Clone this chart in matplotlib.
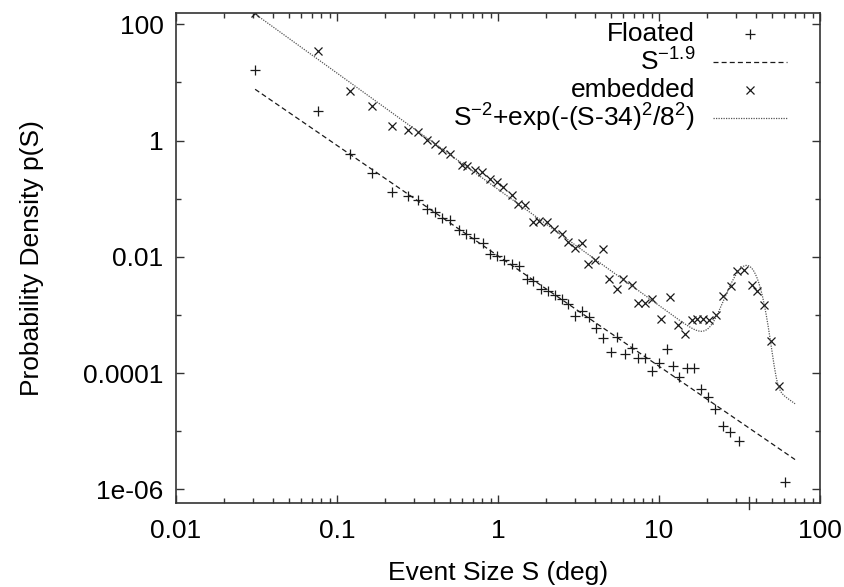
import numpy as np
import matplotlib.pyplot as plt
from matplotlib.lines import Line2D

plt.rcParams['font.family'] = ['Liberation Sans', 'DejaVu Sans']
plt.rcParams['mathtext.default'] = 'regular'

# floated data (+)
floated_S = [0.0310, 0.0759, 0.1205, 0.1642, 0.2187, 0.2748, 0.3199, 0.3638, 0.4062, 0.4470,
             0.5032, 0.575, 0.633, 0.709, 0.804, 0.892, 0.982, 1.090, 1.216, 1.356,
             1.508, 1.657, 1.842, 2.053, 2.259, 2.487, 2.710, 3.008, 3.311, 3.690,
             4.062, 4.508, 5.012, 5.524, 6.106, 6.767, 7.437, 8.185, 9.11, 10.03,
             11.16, 12.27, 13.37, 14.99, 16.57, 18.31, 20.24, 22.27, 24.87, 27.61,
             31.31, 61.06]
floated_p = [16.66, 3.29, 0.593, 0.275, 0.130, 0.1109, 0.0935, 0.0673, 0.0588, 0.0472,
             0.0424, 0.0285, 0.0244, 0.0208, 0.0174, 0.0110, 0.0104, 0.00888, 0.00764, 0.00687,
             0.00422, 0.00379, 0.00284, 0.00261, 0.00218, 0.00190, 0.00157, 0.000951, 0.00117, 0.000924,
             0.000608, 0.000406, 0.000229, 0.000414, 0.000209, 0.000275, 0.000185, 0.000185, 0.000110, 0.000150,
             0.000257, 0.000133, 8.51e-5, 0.000123, 0.000123, 5.29e-5, 3.90e-5, 2.45e-5, 1.25e-5, 9.53e-6,
             6.70e-6, 1.31e-6]

# embedded data (x)
embedded_S = [0.0310, 0.0759, 0.1205, 0.1642, 0.2187, 0.2748, 0.3199, 0.3638, 0.4062, 0.4470,
              0.5032, 0.5950, 0.6390, 0.7197, 0.7921, 0.8919, 0.9815, 1.079, 1.216, 1.337,
              1.472, 1.657, 1.805, 2.007, 2.228, 2.487, 2.734, 3.008, 3.311, 3.638,
              4.004, 4.470, 4.913, 5.462, 6.003, 6.767, 7.437, 8.185, 9.010, 10.25,
              11.70, 13.07, 14.44, 15.96, 17.29, 18.84, 20.53, 22.59, 25.08, 27.88,
              30.64, 33.58, 37.65, 40.91, 44.90, 49.41, 55.88]
embedded_p = [155.0, 35.3, 7.26, 3.90, 1.77, 1.55, 1.41, 1.03, 0.881, 0.695,
              0.593, 0.388, 0.359, 0.306, 0.286, 0.221, 0.193, 0.158, 0.114, 0.0820,
              0.0767, 0.0396, 0.0412, 0.0396, 0.0305, 0.0250, 0.0180, 0.0144, 0.0173, 0.00764,
              0.00871, 0.0138, 0.00422, 0.00284, 0.00422, 0.00324, 0.00159, 0.00158, 0.00191, 0.000867,
              0.00201, 0.000665, 0.000466, 0.000811, 0.000843, 0.000843, 0.000830, 0.000989, 0.00210, 0.00311,
              0.00579, 0.00584, 0.00324, 0.00255, 0.00147, 0.000363, 5.96e-5]

# fit parameters
fit_range = (0.031, 70.0)
power_amp, power_exp = 0.0104, -1.9
emb_amp = 0.145
peak_amp, peak_center, peak_width = 0.007, 35.0, 8.0
extra_tick_S = 36

labels = ['Floated', 'S$^{-1.9}$', 'embedded', 'S$^{-2}$+exp(-(S-34)$^2$/8$^2$)']
xticks = [0.01, 0.1, 1, 10, 100]
xticklabels = ['0.01', '0.1', '1', '10', '100']
yticks = [1e-6, 1e-4, 1e-2, 1, 100]
yticklabels = ['1e-06', '0.0001', '0.01', '1', '100']

S = np.logspace(np.log10(fit_range[0]), np.log10(fit_range[1]), 600)
power_fit = power_amp * S ** power_exp
emb_fit = emb_amp * S ** -2 + peak_amp * np.exp(-((S - peak_center) / peak_width) ** 2)

fig = plt.figure(figsize=(8.45, 5.87), dpi=100)
ax = fig.add_axes([0.2083, 0.1426, 0.7621, 0.8347])

ink = '#1a1a1a'
fs = 19
ax.plot(floated_S, floated_p, '+', color=ink, ms=6.5, mew=0.9, ls='none')
ax.plot(S, power_fit, color=ink, lw=0.9, dashes=(4, 2.5))
ax.plot(embedded_S, embedded_p, 'x', color=ink, ms=6, mew=0.9, ls='none')
ax.plot(S, emb_fit, color='#555555', lw=0.9, dashes=(1, 1))

ax.set_xscale('log')
ax.set_yscale('log')
ax.set_xlim(0.01, 100)
ax.set_ylim(5.74e-7, 155)

ax.set_xticks(xticks)
ax.set_xticklabels(xticklabels)
ax.set_yticks(yticks)
ax.set_yticklabels(yticklabels)
ax.set_xticks([m * d for d in [0.01, 0.1, 1, 10] for m in range(2, 10)], minor=True)
ax.set_yticks([1e-5, 1e-3, 0.1, 10], minor=True)
ax.yaxis.set_minor_formatter(plt.NullFormatter())
ax.xaxis.set_minor_formatter(plt.NullFormatter())

ax.tick_params(which='both', direction='in', top=True, right=True, colors='#333333',
               labelcolor='black', labelsize=fs, width=1)
ax.tick_params(which='major', length=6)
ax.tick_params(which='minor', length=3.5)
ax.tick_params(axis='x', pad=11)
ax.tick_params(axis='y', pad=9)
for sp in ax.spines.values():
    sp.set_color('#333333')
    sp.set_linewidth(1.2)

ax.plot([extra_tick_S, extra_tick_S], [-0.012, 0.012], color='#333333', lw=1,
        transform=ax.get_xaxis_transform(), clip_on=False)

ax.set_xlabel('Event Size S (deg)', fontsize=fs, labelpad=13)
ax.set_ylabel('Probability Density p(S)', fontsize=fs, labelpad=28)

# gnuplot style key, text right aligned
handles = [dict(marker='+', ls='none', color=ink, ms=6.5, mew=0.9),
           dict(marker=None, color=ink, lw=0.9, dashes=(4, 2.5)),
           dict(marker='x', ls='none', color=ink, ms=6, mew=0.9),
           dict(marker=None, color='#555555', lw=0.9, dashes=(1, 1))]
row_y = 0.958
for lab, h in zip(labels, handles):
    ax.text(0.806, row_y, lab, transform=ax.transAxes, ha='right', va='center', fontsize=fs)
    if h['marker'] is None:
        ax.add_line(Line2D([0.834, 0.949], [row_y, row_y], transform=ax.transAxes, **h))
    else:
        ax.add_line(Line2D([0.891], [row_y], transform=ax.transAxes, **h))
    row_y -= 0.057

fig.savefig('out.png', dpi=100)
